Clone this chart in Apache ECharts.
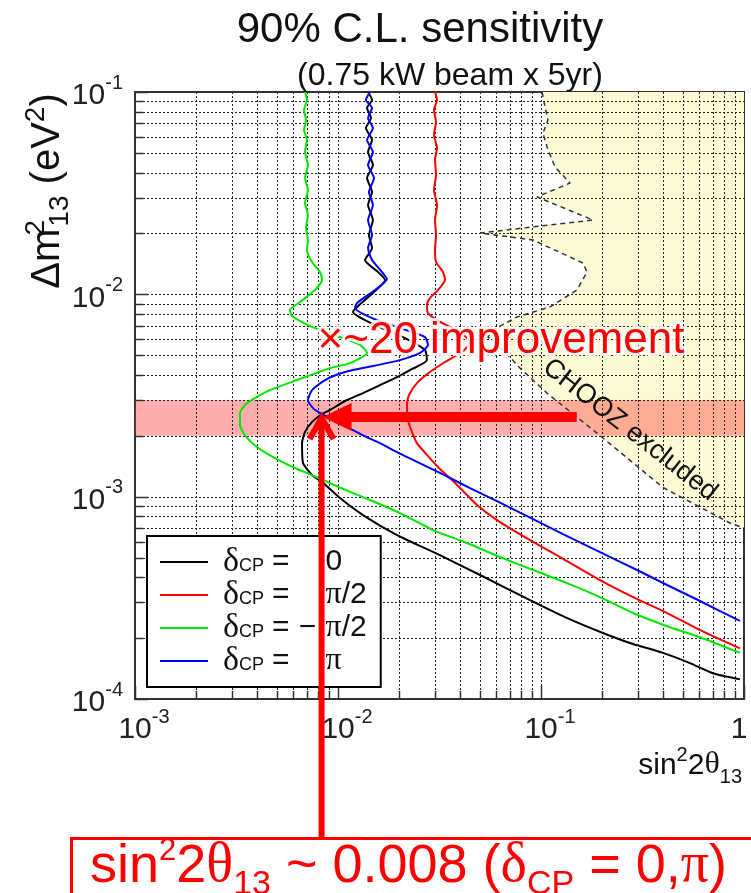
<!DOCTYPE html>
<html><head><meta charset="utf-8">
<script src="https://cdn.jsdelivr.net/npm/echarts@6/dist/echarts.min.js"></script>
<style>html,body{margin:0;padding:0;background:#fff}#c{width:751px;height:893px}</style>
</head><body><div id="c"></div>
<script>
// ---- axis ranges / ticks ----
const xRange = [0.001, 1];
const yRange = [0.0001, 0.1];
const xTickLabels = ['10^-3', '10^-2', '10^-1', '1'];
const yTickLabels = ['10^-4', '10^-3', '10^-2', '10^-1'];

// ---- sensitivity curves [sin^2 2theta13, dm^2_13 (eV^2)] ----
const curveDelta0 = [[0.01406,0.1],[0.01471,0.0913],[0.0139,0.0834],[0.01454,0.0744],[0.01373,0.0664],[0.01471,0.0579],[0.01406,0.0505],[0.01486,0.0436],[0.0139,0.0376],[0.01471,0.032],[0.01406,0.0276],[0.01486,0.0233],[0.01421,0.01964],[0.01471,0.01694],[0.01358,0.01477],[0.01574,0.01289],[0.01706,0.01177],[0.01504,0.01026],[0.01241,0.00866],[0.01186,0.00818],[0.01521,0.00705],[0.02138,0.00608],[0.02683,0.00531],[0.02742,0.00473],[0.02262,0.00422],[0.01954,0.0039],[0.01611,0.00356],[0.01327,0.00325],[0.01083,0.00297],[0.00913,0.00268],[0.00834,0.00256],[0.00745,0.00234],[0.00688,0.00209],[0.00665,0.00184],[0.00672,0.00147],[0.00745,0.001279],[0.00844,0.00117],[0.01023,0.000984],[0.01327,0.000811],[0.01954,0.000646],[0.03177,0.000514],[0.0501,0.00041],[0.0883,0.000308],[0.1313,0.000254],[0.2018,0.000212],[0.2838,0.000187],[0.399,0.000169],[0.542,0.0001504],[0.703,0.000134],[0.955,0.000125]];
const curveDeltaHalfPi = [[0.03006,0.1],[0.03076,0.0913],[0.02971,0.0815],[0.0304,0.0711],[0.02971,0.0613],[0.03076,0.0529],[0.03006,0.0461],[0.0304,0.0389],[0.02971,0.0328],[0.03076,0.0276],[0.03006,0.0233],[0.0304,0.01964],[0.03006,0.01656],[0.0304,0.01445],[0.03289,0.01289],[0.03365,0.01177],[0.03109,0.0105],[0.02838,0.00958],[0.02742,0.00886],[0.02773,0.00809],[0.03076,0.00746],[0.03645,0.00681],[0.0422,0.00622],[0.0447,0.00574],[0.0408,0.00519],[0.03365,0.00463],[0.02838,0.00413],[0.02449,0.00364],[0.02238,0.00318],[0.02188,0.00284],[0.02213,0.00239],[0.02314,0.00209],[0.02449,0.00184],[0.02742,0.00161],[0.03177,0.00137],[0.03645,0.00121],[0.0413,0.001066],[0.0484,0.000909],[0.0607,0.000766],[0.0883,0.00061],[0.1241,0.000503],[0.1954,0.000387],[0.2838,0.000319],[0.4178,0.000266],[0.607,0.000219],[0.955,0.000178]];
const curveDeltaMinusHalfPi = [[0.00688,0.1],[0.00703,0.0913],[0.0068,0.0815],[0.00696,0.0727],[0.0068,0.0649],[0.00703,0.0579],[0.00688,0.0505],[0.00711,0.0436],[0.00688,0.0376],[0.00711,0.0328],[0.00688,0.0283],[0.00711,0.0247],[0.00696,0.02127],[0.00711,0.01855],[0.00703,0.01656],[0.00745,0.01445],[0.00815,0.01289],[0.00834,0.01177],[0.0077,0.0105],[0.0065,0.00916],[0.0058,0.00837],[0.00593,0.00781],[0.00728,0.00697],[0.01023,0.00615],[0.01283,0.00562],[0.0139,0.00513],[0.01146,0.00457],[0.00913,0.00432],[0.00628,0.00377],[0.00462,0.00336],[0.00399,0.00311],[0.00348,0.00284],[0.00329,0.00259],[0.00329,0.00226],[0.00348,0.00201],[0.00399,0.00176],[0.00489,0.00155],[0.00628,0.00137],[0.00728,0.00129],[0.01023,0.00111],[0.01327,0.000995],[0.0202,0.00083],[0.02938,0.000684],[0.0432,0.00059],[0.0628,0.000503],[0.0914,0.000434],[0.1343,0.000374],[0.1954,0.000319],[0.2838,0.000266],[0.4178,0.000229],[0.607,0.000202],[0.955,0.000169]];
const curveDeltaPi = [[0.01438,0.1],[0.01373,0.0913],[0.01471,0.0834],[0.01406,0.0744],[0.01486,0.0664],[0.0139,0.0579],[0.01486,0.0505],[0.01406,0.0436],[0.01504,0.0376],[0.01421,0.032],[0.01486,0.0276],[0.01406,0.0233],[0.01471,0.01964],[0.01406,0.01694],[0.01471,0.01477],[0.01647,0.01289],[0.01742,0.0119],[0.01521,0.0105],[0.01241,0.00906],[0.01213,0.00856],[0.01471,0.00763],[0.0202,0.00681],[0.02683,0.00615],[0.02773,0.00562],[0.02535,0.00513],[0.0202,0.00473],[0.01486,0.00442],[0.01083,0.00413],[0.00863,0.00377],[0.00745,0.00336],[0.00711,0.003],[0.00753,0.00274],[0.00834,0.00256],[0.00966,0.00239],[0.01107,0.00221],[0.01327,0.00201],[0.01611,0.00184],[0.01954,0.00166],[0.02339,0.00152],[0.03177,0.00131],[0.0447,0.001103],[0.0607,0.000951],[0.0914,0.000775],[0.1283,0.000653],[0.1954,0.000532],[0.2972,0.000434],[0.4178,0.000366],[0.607,0.000305],[0.955,0.000243]];
// CHOOZ excluded boundary
const choozLimit = [[0.1012,0.1],[0.1047,0.0843],[0.1082,0.0727],[0.1023,0.0627],[0.1071,0.0535],[0.1172,0.0426],[0.139,0.0355],[0.0955,0.0303],[0.1803,0.0233],[0.0501,0.0201],[0.0914,0.01855],[0.161,0.01428],[0.1686,0.01289],[0.1503,0.0105],[0.1107,0.00866],[0.0762,0.00773],[0.058,0.00666],[0.0548,0.00615],[0.0665,0.00519],[0.0788,0.00432],[0.1071,0.00325],[0.1888,0.00206],[0.399,0.00111],[0.853,0.000741],[1.0,0.0007]];
// highlighted dm^2 band and arrow annotation
const bandRange = [0.002, 0.003];
const arrowTip = [0.0083, 0.00253];
const arrowTailX = 0.15;

const seriesNames = ['δCP = 0', 'δCP = π/2', 'δCP = −π/2', 'δCP = π'];
const seriesColors = ['#000000', '#ff0000', '#00e800', '#0000ff'];
const seriesData = [curveDelta0, curveDeltaHalfPi, curveDeltaMinusHalfPi, curveDeltaPi];

const SANS = "'Liberation Sans', Arial, sans-serif";
const SERIF = "'Liberation Serif', 'DejaVu Serif', serif";

// grid line positions (1..9 x 10^n)
const gridX = [], gridY = [];
for (let e = -3; e <= 0; e++) for (let k = 1; k <= 9; k++) { const v = k * Math.pow(10, e); if (v <= xRange[1] * 1.0001) gridX.push([v, k === 1 ? 1 : 0]); }
for (let e = -4; e <= -1; e++) for (let k = 1; k <= 9; k++) { const v = k * Math.pow(10, e); if (v <= yRange[1] * 1.0001) gridY.push([v, k === 1 ? 1 : 0]); }

function expLabel(v, labels, range) {
  const idx = Math.round(Math.log10(v / range[0]));
  const t = labels[idx] || '';
  const parts = t.split('^');
  return parts.length === 2 ? '{b|' + parts[0] + '}{e|' + parts[1] + '}' : '{o|' + t + '}';
}
const yLabelRich = {
  b: { fontSize: 30, fontFamily: SANS, color: '#222', lineHeight: 38, verticalAlign: 'bottom' },
  e: { fontSize: 20, fontFamily: SANS, color: '#222', lineHeight: 20, verticalAlign: 'top' }
};
const xLabelRich = {
  b: { fontSize: 30, fontFamily: SANS, color: '#222', lineHeight: 38, verticalAlign: 'bottom', padding: [0, 0, 0, 18] },
  e: { fontSize: 20, fontFamily: SANS, color: '#222', lineHeight: 20, verticalAlign: 'top' },
  o: { fontSize: 30, fontFamily: SANS, color: '#222', lineHeight: 38, verticalAlign: 'bottom', padding: [0, 10, 0, 0] }
};

const chart = echarts.init(document.getElementById('c'), null, { renderer: 'canvas' });

const lineSeries = seriesNames.map((n, i) => ({
  name: n, type: 'line', data: seriesData[i], symbol: 'none', showSymbol: false, smooth: 0.2, z: 3,
  lineStyle: { color: seriesColors[i], width: 2 }, itemStyle: { color: seriesColors[i] }, silent: true
}));

function crisp(v) { return Math.round(v) + 0.5; }

const legendTok = { color: '#111', lineHeight: 26 };
const option = {
  animation: false,
  backgroundColor: '#fff',
  title: [
    { text: '90% C.L. sensitivity', left: 420, top: 9, textAlign: 'center', padding: 0,
      textStyle: { fontFamily: SANS, fontSize: 42, fontWeight: 'normal', color: '#111' } },
    { text: '(0.75 kW beam x 5yr)', left: 450, top: 60, textAlign: 'center', padding: 0,
      textStyle: { fontFamily: SANS, fontSize: 32, fontWeight: 'normal', color: '#111' } }
  ],
  grid: { left: 135, right: 7, top: 92, bottom: 194, outerBoundsMode: 'none', containLabel: false,
    show: true, borderColor: '#333', borderWidth: 2, backgroundColor: 'transparent' },
  xAxis: {
    type: 'log', logBase: 10, min: xRange[0], max: xRange[1],
    axisLine: { show: false }, axisTick: { show: false }, splitLine: { show: false },
    axisLabel: { margin: 8, formatter: v => expLabel(v, xTickLabels, xRange), rich: xLabelRich }
  },
  yAxis: {
    type: 'log', logBase: 10, min: yRange[0], max: yRange[1],
    axisLine: { show: false }, axisTick: { show: false }, splitLine: { show: false },
    axisLabel: { margin: 12, formatter: v => expLabel(v, yTickLabels, yRange), rich: yLabelRich }
  },
  legend: {
    left: 147, top: 536, orient: 'vertical', padding: [9, 14, 9, 13], itemGap: -1,
    itemWidth: 48, itemHeight: 2, icon: 'rect', borderColor: '#000', borderWidth: 2, backgroundColor: '#fff', z: 10,
    data: seriesNames,
    formatter: name => {
      const val = name.split('= ')[1];
      const neg = val.startsWith('−');
      const rest = neg ? val.slice(1) : val;
      let valueStr;
      if (rest === '0') valueStr = '{v|0}';
      else if (rest === 'π') valueStr = '{p|π}';
      else valueStr = '{p|π}{v|' + rest.slice(1) + '}';
      return '{d|δ}{s|CP}{e|=}{m|' + (neg ? '−' : ' ') + '}' + valueStr;
    },
    textStyle: {
      lineHeight: 26, color: '#111', fontSize: 26,
      rich: {
        d: Object.assign({ fontFamily: SERIF, fontSize: 34, padding: [0, 0, 0, 10] }, legendTok),
        s: { fontFamily: SANS, fontSize: 18, lineHeight: 14, verticalAlign: 'bottom', color: '#111' },
        e: Object.assign({ fontFamily: SANS, fontSize: 30, padding: [0, 0, 0, 8] }, legendTok),
        m: Object.assign({ fontFamily: SANS, fontSize: 30, width: 36, align: 'center' }, legendTok),
        p: Object.assign({ fontFamily: SERIF, fontSize: 32 }, legendTok),
        v: Object.assign({ fontFamily: SANS, fontSize: 30 }, legendTok)
      }
    }
  },
  series: [
    { // CHOOZ excluded area
      type: 'custom', z: 0, silent: true, data: [[0.5, 0.01]], clip: true,
      renderItem: (params, api) => {
        const pts = choozLimit.map(p => api.coord(p));
        pts.push(api.coord([xRange[1], yRange[1]]));
        return { type: 'polygon', shape: { points: pts }, style: { fill: '#fdfbd6', stroke: null } };
      }
    },
    { // vertical grid lines + bottom ticks
      type: 'custom', z: 1, silent: true, data: gridX.map(g => [g[0], yRange[0], g[1]]),
      renderItem: (params, api) => {
        const cs = params.coordSys;
        const x = crisp(api.coord([api.value(0), yRange[0]])[0]);
        const major = api.value(2) === 1;
        const ch = [];
        if (x > cs.x + 2 && x < cs.x + cs.width - 2)
          ch.push({ type: 'line', shape: { x1: x, y1: cs.y, x2: x, y2: cs.y + cs.height }, style: { stroke: '#222', lineWidth: 1, lineDash: [2, 2] } });
        ch.push({ type: 'line', shape: { x1: x, y1: cs.y + cs.height, x2: x, y2: cs.y + cs.height - (major ? 13 : 8) }, style: { stroke: '#333', lineWidth: 1.5 } });
        return { type: 'group', children: ch };
      }
    },
    { // horizontal grid lines + left ticks
      type: 'custom', z: 1, silent: true, data: gridY.map(g => [xRange[0], g[0], g[1]]),
      renderItem: (params, api) => {
        const cs = params.coordSys;
        const y = crisp(api.coord([xRange[0], api.value(1)])[1]);
        const major = api.value(2) === 1;
        const ch = [];
        if (y > cs.y + 2 && y < cs.y + cs.height - 2)
          ch.push({ type: 'line', shape: { x1: cs.x, y1: y, x2: cs.x + cs.width, y2: y }, style: { stroke: '#222', lineWidth: 1, lineDash: [2, 2] } });
        ch.push({ type: 'line', shape: { x1: cs.x, y1: y, x2: cs.x + (major ? 13 : 8), y2: y }, style: { stroke: '#333', lineWidth: 1.5 } });
        return { type: 'group', children: ch };
      }
    },
    { // CHOOZ boundary (dashed)
      name: 'CHOOZ', type: 'line', data: choozLimit, symbol: 'none', z: 2, silent: true,
      lineStyle: { color: '#333', width: 1.5, type: [5, 4] },
      markArea: { silent: true, itemStyle: { color: 'rgba(255,30,30,0.36)' },
        data: [[{ yAxis: bandRange[0] }, { yAxis: bandRange[1] }]] }
    }
  ].concat(lineSeries)
};
chart.setOption(option);

// ---- annotations (positions derived from data coordinates) ----
const tip = chart.convertToPixel({ gridIndex: 0 }, arrowTip);
const tail = chart.convertToPixel({ gridIndex: 0 }, [arrowTailX, arrowTip[1]]);
const RED = '#ff0000';
const boxTop = 838;
chart.setOption({
  graphic: [
    { type: 'text', x: 45, y: 191, rotation: Math.PI / 2, z: 50,
      style: { text: '{a|Δm}{sup|2}{sub|13}{a| (eV}{sup2|2}{a|)}', align: 'center', verticalAlign: 'middle',
        rich: {
          a: { fontFamily: SANS, fontSize: 40, fill: '#111', lineHeight: 46, verticalAlign: 'bottom' },
          sup: { fontFamily: SANS, fontSize: 28, fill: '#111', lineHeight: 28, verticalAlign: 'top', width: 2 },
          sub: { fontFamily: SANS, fontSize: 28, fill: '#111', lineHeight: 28, verticalAlign: 'bottom', padding: [0, 0, -6, 0] },
          sup2: { fontFamily: SANS, fontSize: 28, fill: '#111', lineHeight: 28, verticalAlign: 'top' }
        } } },
    { type: 'text', x: 742, y: 763, z: 50,
      style: { text: '{a|sin}{sup|2}{a|2}{g|θ}{sub|13}', align: 'right', verticalAlign: 'middle',
        rich: {
          a: { fontFamily: SANS, fontSize: 30, fill: '#111', lineHeight: 36, verticalAlign: 'bottom' },
          g: { fontFamily: SERIF, fontSize: 32, fill: '#111', lineHeight: 36, verticalAlign: 'bottom' },
          sup: { fontFamily: SANS, fontSize: 20, fill: '#111', lineHeight: 20, verticalAlign: 'top' },
          sub: { fontFamily: SANS, fontSize: 20, fill: '#111', lineHeight: 20, verticalAlign: 'bottom', padding: [0, 0, -6, 0] }
        } } },
    { type: 'text', x: 501, y: 341, z: 60,
      style: { text: '×~20 improvement', font: '44px ' + SANS, fill: RED, align: 'center', verticalAlign: 'middle',
        stroke: 'rgba(255,255,255,0.85)', lineWidth: 6 } },
    { type: 'text', x: 630, y: 430, rotation: -38 * Math.PI / 180, z: 60,
      style: { text: 'CHOOZ excluded', font: '27px ' + SANS, fill: '#111', align: 'center', verticalAlign: 'middle' } },
    // horizontal arrow
    { type: 'line', z: 70, shape: { x1: tail[0], y1: tip[1] + 2, x2: tip[0] + 24, y2: tip[1] + 2 }, style: { stroke: RED, lineWidth: 10 } },
    { type: 'polygon', z: 70, shape: { points: [[tip[0] + 1, tip[1] + 2], [tip[0] + 30, tip[1] - 12], [tip[0] + 30, tip[1] + 16]] }, style: { fill: RED } },
    // vertical arrow
    { type: 'line', z: 71, shape: { x1: tip[0], y1: boxTop, x2: tip[0], y2: tip[1] + 6 }, style: { stroke: RED, lineWidth: 6 } },
    { type: 'polyline', z: 71, shape: { points: [[tip[0] - 12, tip[1] + 24], [tip[0], tip[1] + 3], [tip[0] + 12, tip[1] + 24]] }, style: { stroke: RED, lineWidth: 6, lineJoin: 'miter', fill: null } },
    // result box
    { type: 'rect', z: 72, shape: { x: 71.5, y: boxTop + 0.5, width: 700, height: 80 }, style: { fill: '#fff', stroke: RED, lineWidth: 3 } },
    { type: 'text', x: 90, y: 865, z: 73,
      style: { text: '{a|sin}{sup|2}{a|2}{g|θ}{sub|13}{a| ~ 0.008 (}{g|δ}{sub|CP}{a| = 0,}{g|π}{a|)}', align: 'left', verticalAlign: 'middle',
        rich: {
          a: { fontFamily: SANS, fontSize: 54, fill: RED, lineHeight: 58, verticalAlign: 'bottom' },
          g: { fontFamily: SERIF, fontSize: 56, fill: RED, lineHeight: 58, verticalAlign: 'bottom' },
          sup: { fontFamily: SANS, fontSize: 31, fill: RED, lineHeight: 31, verticalAlign: 'top' },
          sub: { fontFamily: SANS, fontSize: 34, fill: RED, lineHeight: 34, verticalAlign: 'bottom', padding: [0, 0, -8, 0] }
        } } }
  ]
});
</script>
</body></html>
